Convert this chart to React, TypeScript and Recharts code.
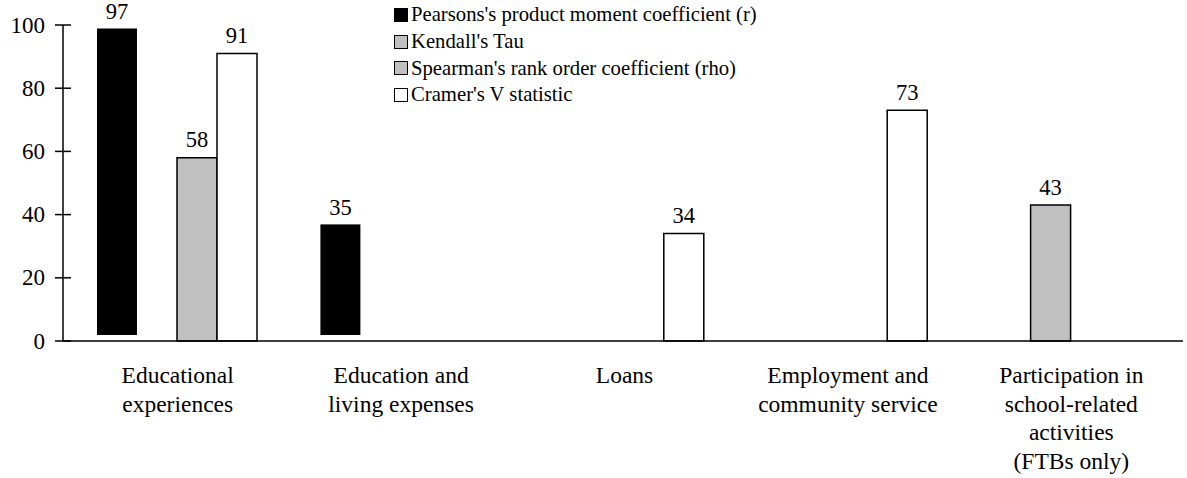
import React from "react";
import { Bar, BarChart, Legend, XAxis, YAxis } from "recharts";

const categories = [
  "Educational\nexperiences",
  "Education and\nliving expenses",
  "Loans",
  "Employment and\ncommunity service",
  "Participation in\nschool-related\nactivities\n(FTBs only)",
];
const pearson = [97, 35, null, null, null];
const kendall = [null, null, null, null, 43];
const spearman = [58, null, null, null, null];
const cramer = [91, null, 34, 73, null];
const yTicks = [0, 20, 40, 60, 80, 100];

const seriesInfo = [
  { key: "pearson", name: "Pearsons's product moment coefficient (r)", fill: "#000000" },
  { key: "kendall", name: "Kendall's Tau", fill: "#c0c0c0" },
  { key: "spearman", name: "Spearman's rank order coefficient (rho)", fill: "#c0c0c0" },
  { key: "cramer", name: "Cramer's V statistic", fill: "#ffffff" },
];

const data = categories.map((name, i) => ({
  name,
  pearson: pearson[i],
  kendall: kendall[i],
  spearman: spearman[i],
  cramer: cramer[i],
}));

const FONT = '"Liberation Serif", "Times New Roman", serif';
const BLACK_LIFT = 6; // the black bars sit a few px above the baseline in the original

const PearsonBar = (props: any) => {
  const { x, y, width, height } = props;
  if (!height) return null;
  return <rect x={x} y={y - BLACK_LIFT} width={width} height={height} fill="#000" />;
};

const ValueLabel = (props: any) => {
  const { x, y, width, value, lift = 0 } = props;
  if (value == null) return null;
  return (
    <text x={x + width / 2} y={y - lift - 10.5} textAnchor="middle" fontSize={22.5} fill="#000" fontFamily={FONT}>
      {value}
    </text>
  );
};

const YTick = ({ x, y, payload }: any) => (
  <g>
    <line x1={x - 8} x2={x + 8} y1={y} y2={y} stroke="#000" strokeWidth={1.5} />
    <text x={x - 18} y={y + 7.5} textAnchor="end" fontSize={23} fill="#000" fontFamily={FONT}>
      {payload.value}
    </text>
  </g>
);

const XTick = ({ x, y, payload }: any) => {
  const lines = String(payload.value).split("\n");
  return (
    <text x={x} y={y + 42} textAnchor="middle" fontSize={23.5} fill="#000" fontFamily={FONT}>
      {lines.map((l, i) => (
        <tspan key={i} x={x} dy={i === 0 ? 0 : 28.7}>
          {l}
        </tspan>
      ))}
    </text>
  );
};

const LegendBox = () => (
  <div style={{ fontFamily: FONT, fontSize: 20.7, color: "#000" }}>
    {seriesInfo.map((s) => (
      <div key={s.key} style={{ display: "flex", alignItems: "center", height: 26.7 }}>
        <span
          style={{
            display: "inline-block",
            width: 12,
            height: 12,
            background: s.fill,
            border: "1.5px solid #000",
            marginRight: 3,
          }}
        />
        <span style={{ whiteSpace: "nowrap" }}>{s.name}</span>
      </div>
    ))}
  </div>
);

export default function App() {
  return (
    <div style={{ position: "absolute", left: 0, top: 0, background: "#fff" }}>
      <BarChart
        width={1187}
        height={478}
        data={data}
        margin={{ top: 25, right: 4, left: 0, bottom: 0 }}
        barCategoryGap={31}
        barGap={0}
        style={{ fontFamily: FONT }}
      >
        <XAxis
          dataKey="name"
          interval={0}
          height={137}
          padding={{ left: 3, right: 0 }}
          tickLine={false}
          tickSize={0}
          tickMargin={0}
          axisLine={{ stroke: "#000", strokeWidth: 1.5 }}
          tick={<XTick />}
        />
        <YAxis
          width={63}
          domain={[0, 100]}
          ticks={yTicks}
          tickLine={false}
          tickSize={0}
          tickMargin={0}
          axisLine={{ stroke: "#000", strokeWidth: 1.5 }}
          tick={<YTick />}
        />
        <Legend
          layout="vertical"
          align="center"
          verticalAlign="middle"
          wrapperStyle={{ top: 1.5, left: 394, width: "auto" }}
          content={<LegendBox />}
        />
        <Bar dataKey="pearson" name={seriesInfo[0].name} fill="#000" shape={<PearsonBar />} label={<ValueLabel lift={4.5} />} isAnimationActive={false} />
        <Bar dataKey="kendall" name={seriesInfo[1].name} fill="#c0c0c0" stroke="#000" strokeWidth={1.5} label={<ValueLabel />} isAnimationActive={false} />
        <Bar dataKey="spearman" name={seriesInfo[2].name} fill="#c0c0c0" stroke="#000" strokeWidth={1.5} label={<ValueLabel />} isAnimationActive={false} />
        <Bar dataKey="cramer" name={seriesInfo[3].name} fill="#fff" stroke="#000" strokeWidth={1.5} label={<ValueLabel />} isAnimationActive={false} />
      </BarChart>
    </div>
  );
}
